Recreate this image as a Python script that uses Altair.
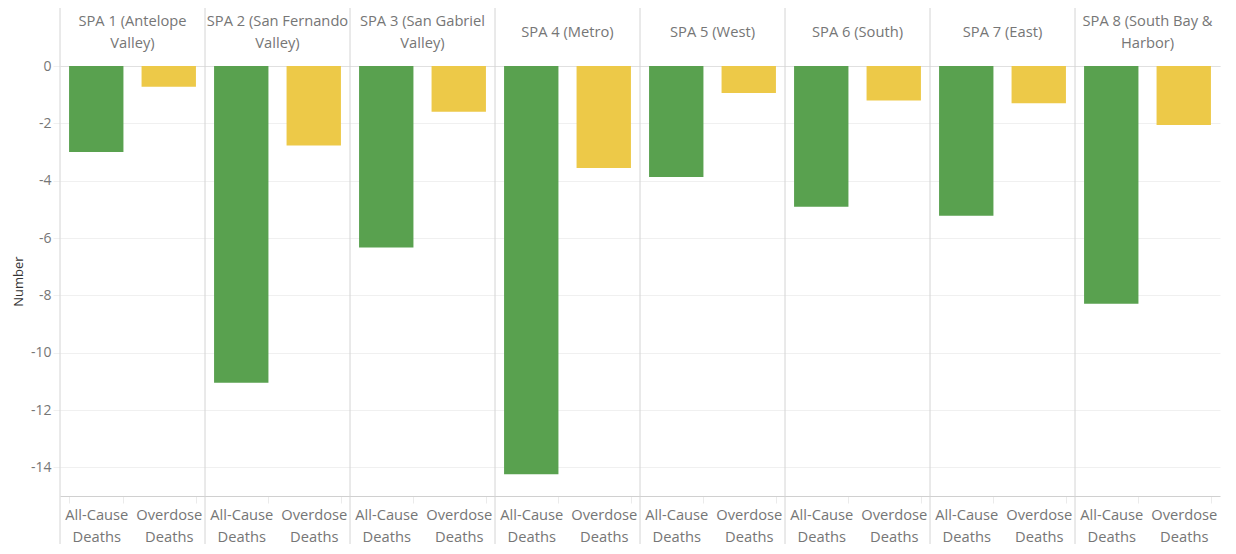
import altair as alt
import pandas as pd

# ---- data ----
spa_names = [
    "SPA 1 (Antelope Valley)",
    "SPA 2 (San Fernando Valley)",
    "SPA 3 (San Gabriel Valley)",
    "SPA 4 (Metro)",
    "SPA 5 (West)",
    "SPA 6 (South)",
    "SPA 7 (East)",
    "SPA 8 (South Bay & Harbor)",
]
# header text with line breaks as in the reference ("|" = new line)
spa_headers = [
    "SPA 1 (Antelope|Valley)",
    "SPA 2 (San Fernando|Valley)",
    "SPA 3 (San Gabriel|Valley)",
    "SPA 4 (Metro)",
    "SPA 5 (West)",
    "SPA 6 (South)",
    "SPA 7 (East)",
    "SPA 8 (South Bay &|Harbor)",
]
measures = ["All-Cause Deaths", "Overdose Deaths"]
all_cause = [-3.0, -11.05, -6.33, -14.24, -3.87, -4.91, -5.22, -8.29]
overdose = [-0.72, -2.77, -1.6, -3.56, -0.94, -1.2, -1.3, -2.06]
y_ticks = [0, -2, -4, -6, -8, -10, -12, -14]
colors = ["#59a14f", "#edc948"]

# ---- tables ----
rows = []
keys = []
for i, name in enumerate(spa_names):
    for m, vals in zip(measures, [all_cause, overdose]):
        k = f"{i + 1}|{m}"
        keys.append(k)
        rows.append({"spa": name, "measure": m, "key": k, "value": vals[i]})
df = pd.DataFrame(rows)
hdr = pd.DataFrame({"spa": spa_names, "header": spa_headers})

W, H = 1160, 430
TOP, BOTTOM = 58, 48
FONT = "Open Sans"
GREY = "#767676"
FS = 14.7

bars = alt.Chart(df).mark_bar().encode(
    x=alt.X(
        "key:N",
        sort=keys,
        scale=alt.Scale(paddingInner=0.25, paddingOuter=0.125),
        axis=alt.Axis(
            title=None,
            labelExpr="isValid(datum.label) && indexof(datum.label, '|') >= 0 ? split(split(datum.label, '|')[1], ' ') : ''",
            labelAngle=0,
            labelFont=FONT,
            labelFontSize=FS,
            labelColor=GREY,
            labelLineHeight=22,
            labelPadding=4,
            labelBaseline="top",
            tickBand="extent",
            tickSize=7,
            tickColor="#ebebeb",
            domain=True,
            domainColor="#d0d0d0",
            grid=False,
        ),
    ),
    y=alt.Y(
        "value:Q",
        scale=alt.Scale(domain=[-15, 0], nice=False),
        axis=alt.Axis(
            values=y_ticks,
            title="Number",
            labelExpr="'' + datum.value",
            labelFont=FONT,
            labelFontSize=14,
            labelColor=GREY,
            labelPadding=2,
            tickSize=7,
            tickColor="#f0f0f0",
            gridColor="#f0f0f0",
            domain=False,
            titleFont=FONT,
            titleFontSize=13,
            titleFontWeight="normal",
            titleColor="#333333",
            titlePadding=5,
        ),
    ),
    color=alt.Color(
        "measure:N",
        scale=alt.Scale(domain=measures, range=colors),
        legend=None,
    ),
)


def spa_scale():
    return alt.Scale(domain=spa_names, paddingInner=0, paddingOuter=0)


text_style = dict(
    lineBreak="|",
    baseline="middle",
    align="center",
    font=FONT,
    fontSize=FS,
    lineHeight=22,
    color=GREY,
)

headers_two = (
    alt.Chart(hdr)
    .transform_filter("indexof(datum.header, '|') >= 0")
    .mark_text(**text_style)
    .encode(
        x=alt.X("spa:N", scale=spa_scale(), axis=None),
        y=alt.value(-44),
        text="header:N",
    )
)
headers_one = (
    alt.Chart(hdr)
    .transform_filter("indexof(datum.header, '|') < 0")
    .mark_text(**text_style)
    .encode(
        x=alt.X("spa:N", scale=spa_scale(), axis=None),
        y=alt.value(-33),
        text="header:N",
    )
)

seps = alt.Chart(hdr).mark_rule(color="#d4d4d4", strokeWidth=1).encode(
    x=alt.X(
        "spa:N",
        scale=spa_scale(),
        bandPosition=0,
        axis=alt.Axis(
            orient="top",
            title=None,
            labels=False,
            ticks=False,
            grid=False,
            domain=True,
            domainColor="#e0e0e0",
        ),
    ),
    y=alt.value(-TOP),
    y2=alt.value(H + BOTTOM),
)

chart = (
    alt.layer(bars, seps, headers_two, headers_one)
    .resolve_scale(x="independent")
    .properties(
        width=W,
        height=H,
        autosize=alt.AutoSizeParams(type="none"),
        padding={"left": 52, "top": TOP, "right": 4, "bottom": BOTTOM},
        background="white",
    )
    .configure_view(stroke=None)
)

chart.save("out.html", embed_options={"renderer": "svg", "actions": False})
